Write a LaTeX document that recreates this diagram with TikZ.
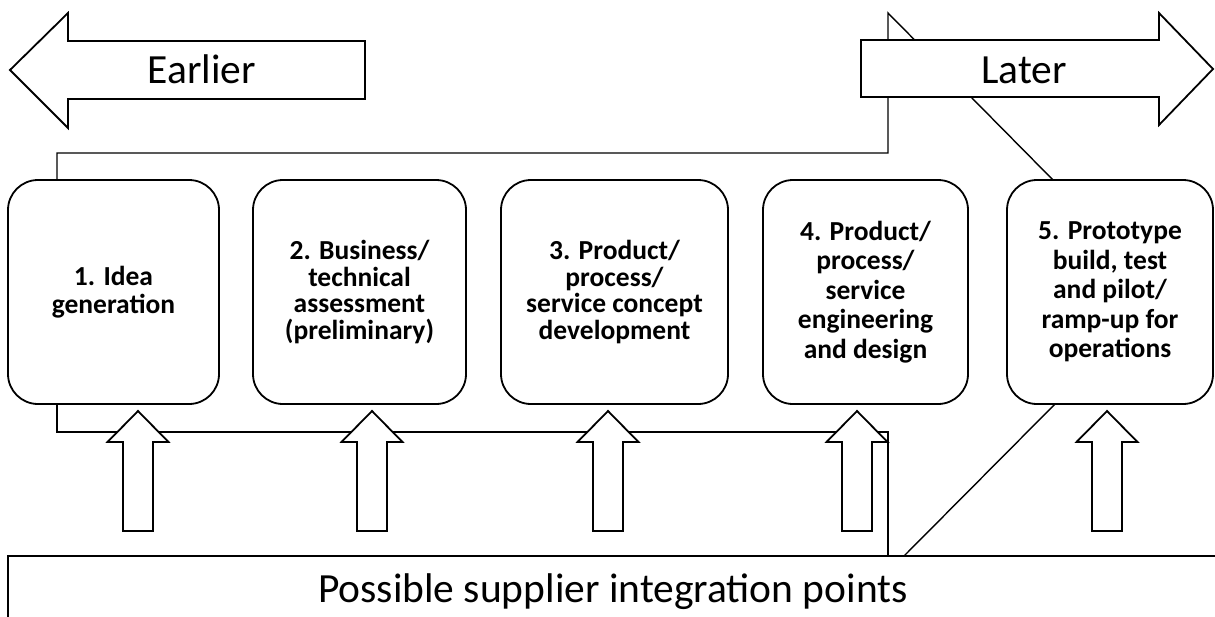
\documentclass[tikz,border=0pt]{standalone}
\usepackage{fontspec}
\setmainfont{Carlito}
\usetikzlibrary{calc}
\tikzset{
  stepbox/.style={draw, fill=white, line width=1.8pt, rounded corners=30pt, align=center,
    font=\fontsize{27.5}{#1}\selectfont\bfseries, minimum height=224pt, inner sep=0pt},
  stepbox/.default=26.5,
  blockarrow/.style={draw, fill=white, line width=1.8pt, line join=miter},
  callout/.style={draw, line width=1.4pt, line join=miter},
  bigtext/.style={font=\fontsize{41.5}{48}\selectfont, inner sep=0pt, anchor=base}
}
\begin{document}
\begin{tikzpicture}[x=1pt,y=-1pt]
\useasboundingbox (0,0) rectangle (1215,616);

% callout connectors (behind)
\coordinate (ct1) at (57,180);
\coordinate (ct2) at (57,153);
\coordinate (ct3) at (888,153);
\coordinate (ct4) at (888,13);
\coordinate (ct5) at (1053,180);
\draw[callout] (ct1) -- (ct2) -- (ct3) -- (ct4) -- (ct5);

\coordinate (cb1) at (57,404);
\coordinate (cb2) at (57,432);
\coordinate (cb3) at (888,432);
\coordinate (cb4) at (888,556);
\coordinate (cb5) at (904,556);
\coordinate (cb6) at (1055,404);
\draw[callout] (cb1) -- (cb2) -- (cb3) -- (cb4);
\draw[callout] (cb5) -- (cb6);

% step boxes
\node[stepbox=28, minimum width=211pt] (b1) at (113.5,292) {1. Idea\\generation};
\node[stepbox, minimum width=213pt] (b2) at (359.5,292) {2. Business/\\technical\\assessment\\(preliminary)};
\node[stepbox, minimum width=227pt] (b3) at (614.5,292) {3. Product/\\process/\\service concept\\development};
\node[stepbox=29.5, minimum width=205pt] (b4) at (865.5,292) {4. Product/\\process/\\service\\engineering\\and design};
\node[stepbox=29.5, minimum width=206pt] (b5) at (1110,292) {5. Prototype\\build, test\\and pilot/\\ramp-up for\\operations};

% Earlier / Later arrows
\draw[blockarrow] (10,70) -- (68,13) -- (68,41) -- (365,41) -- (365,99) -- (68,99) -- (68,128) -- cycle;
\node[bigtext] (earlier) at (202,83) {Earlier};
\draw[blockarrow] (861,40) -- (1159,40) -- (1159,13) -- (1213,69) -- (1159,125) -- (1159,97) -- (861,97) -- cycle;
\node[bigtext] (later) at (1024,83) {Later};

% up arrows
\foreach \cx in {138,372,608,857,1107}{
  \draw[blockarrow] (\cx,411) -- (\cx+30.5,442) -- (\cx+15,442) -- (\cx+15,531)
     -- (\cx-15,531) -- (\cx-15,442) -- (\cx-30.5,442) -- cycle;
}

% bottom box
\draw[line width=2pt] (1230,556) -- (8,556) -- (8,630);
\node[bigtext] (sup) at (613,602) {Possible supplier integration points};
\end{tikzpicture}
\end{document}
